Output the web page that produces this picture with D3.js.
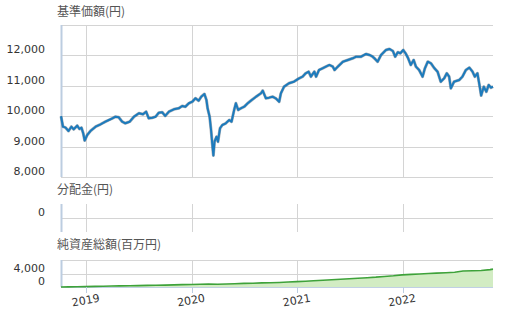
<!doctype html>
<html lang="ja">
  <head>
    <meta charset="utf-8">
    <title>基準価額チャート</title>
    <style>
      body { margin: 0; background: #fff; }
      text { font-family: "DejaVu Sans", sans-serif; }
      .title { font-family: "Noto Sans CJK JP", sans-serif; fill: #555; font-size: 12px; }
    </style>
  </head>
  <body>
    <div id="chart"></div>

    <script src="https://cdn.jsdelivr.net/npm/d3@7"></script>
    <script>

    // 基準価額(円)
    var navDates = ["2018-10-05","2018-10-12","2018-10-21","2018-10-31","2018-11-10","2018-11-18","2018-11-30","2018-12-08","2018-12-15","2018-12-21","2018-12-26","2019-01-04","2019-01-15","2019-02-02","2019-02-19","2019-03-08","2019-03-20","2019-04-01","2019-04-12","2019-04-23","2019-05-05","2019-05-16","2019-05-31","2019-06-15","2019-07-02","2019-07-16","2019-07-27","2019-08-05","2019-08-18","2019-08-29","2019-09-09","2019-09-21","2019-10-01","2019-10-14","2019-10-31","2019-11-17","2019-11-29","2019-12-10","2019-12-22","2020-01-03","2020-01-14","2020-01-25","2020-02-03","2020-02-14","2020-02-21","2020-02-25","2020-03-03","2020-03-08","2020-03-12","2020-03-16","2020-03-20","2020-03-27","2020-04-01","2020-04-08","2020-04-16","2020-04-28","2020-05-10","2020-05-18","2020-05-27","2020-06-02","2020-06-10","2020-06-19","2020-07-01","2020-07-13","2020-07-27","2020-08-11","2020-08-28","2020-09-03","2020-09-14","2020-09-25","2020-10-07","2020-10-18","2020-10-30","2020-11-05","2020-11-16","2020-12-03","2020-12-20","2021-01-07","2021-01-19","2021-01-30","2021-02-09","2021-02-17","2021-03-01","2021-03-07","2021-03-17","2021-03-29","2021-04-10","2021-04-22","2021-05-04","2021-05-10","2021-05-21","2021-06-08","2021-06-25","2021-07-12","2021-07-24","2021-08-10","2021-08-27","2021-09-08","2021-09-19","2021-09-25","2021-10-06","2021-10-18","2021-11-04","2021-11-16","2021-11-28","2021-12-06","2021-12-15","2021-12-24","2022-01-03","2022-01-11","2022-01-20","2022-01-29","2022-02-08","2022-02-16","2022-02-27","2022-03-11","2022-03-19","2022-03-29","2022-04-09","2022-04-21","2022-05-02","2022-05-13","2022-05-25","2022-06-03","2022-06-11","2022-06-17","2022-06-28","2022-07-16","2022-07-27","2022-08-08","2022-08-20","2022-08-31","2022-09-08","2022-09-17","2022-09-26","2022-09-30","2022-10-09","2022-10-18","2022-10-26","2022-11-03","2022-11-10"];
    var navValues = [10000,9655,9622,9513,9655,9569,9688,9579,9622,9438,9200,9382,9513,9655,9734,9819,9875,9931,9984,9964,9819,9767,9819,9984,10096,10063,10148,9931,9951,9984,10115,10129,10010,10148,10227,10260,10336,10313,10425,10477,10589,10510,10642,10731,10533,10260,9984,9546,9109,8710,9161,9326,9161,9602,9711,9767,9875,9819,10204,10425,10204,10260,10313,10425,10533,10642,10754,10839,10589,10610,10642,10589,10477,10754,10971,11083,11135,11247,11300,11412,11464,11300,11464,11300,11520,11576,11629,11685,11629,11520,11629,11793,11849,11905,11958,11958,12047,12014,11958,11905,11793,12014,12178,12211,12145,11958,12103,12070,12178,12070,11905,11685,11849,11629,11520,11300,11576,11793,11741,11576,11464,11135,11247,11412,11300,10918,11135,11191,11300,11520,11596,11464,11300,11412,10918,10680,10971,10806,11027,10938,10971];

    // 分配金(円) - none paid in the period
    var distDates = [];
    var distValues = [];

    // 純資産総額(百万円)
    var aumDates = ["2018-10-05","2018-10-31","2018-11-30","2018-12-28","2019-01-31","2019-02-28","2019-03-29","2019-04-26","2019-05-31","2019-06-28","2019-07-31","2019-08-30","2019-09-30","2019-10-31","2019-11-29","2019-12-30","2020-01-31","2020-02-28","2020-03-31","2020-04-30","2020-05-29","2020-06-30","2020-07-31","2020-08-31","2020-09-30","2020-10-30","2020-11-30","2020-12-30","2021-01-29","2021-02-26","2021-03-31","2021-04-30","2021-05-31","2021-06-30","2021-07-30","2021-08-31","2021-09-30","2021-10-29","2021-11-30","2021-12-30","2022-01-31","2022-02-28","2022-03-31","2022-04-28","2022-05-31","2022-06-30","2022-07-29","2022-08-31","2022-09-30","2022-10-31","2022-11-10"];
    var aumValues = [10,40,80,120,180,230,280,330,370,420,470,510,570,630,690,760,830,870,800,900,980,1060,1130,1220,1280,1350,1470,1580,1700,1840,1990,2150,2290,2460,2600,2760,2920,3130,3330,3600,3750,3850,3980,4100,4230,4380,4720,4830,4900,5150,5300];

    var navTicks = [8000, 9000, 10000, 11000, 12000];
    var navGrid = [8000, 9000, 10000, 11000, 12000, 13000];
    var distTicks = [0];
    var aumTicks = [0, 4000];
    var aumGrid = [0, 4000, 8000];
    var yearTicks = ["2019-01-01", "2020-01-01", "2021-01-01", "2022-01-01"];

    var parse = d3.timeParse("%Y-%m-%d");
    var fmt = d3.format(",");

    var width = 509, height = 314;
    var left = 61, right = 493;

    var svg = d3.select("#chart")
        .append("svg")
        .attr("width", width)
        .attr("height", height);

    var x = d3.scaleTime()
        .domain([parse("2018-10-05"), parse("2022-11-10")])
        .range([left, right]);

    var years = yearTicks.map(parse);

    // panels
    var yNav = d3.scaleLinear().domain([8000, 13000]).range([177, 25]);
    var yDist = d3.scaleLinear().domain([-1, 1]).range([232, 204]);
    var yAum = d3.scaleLinear().domain([0, 8000]).range([287, 260]);

    function panel(y, grid, ticks, title, titleY, bottomAxis) {
      var g = svg.append("g");
      var r = y.range();

      g.selectAll(".hg")
        .data(grid)
        .join("line")
        .attr("x1", left).attr("x2", right)
        .attr("y1", function(d){ return Math.round(y(d)) + 0.5; })
        .attr("y2", function(d){ return Math.round(y(d)) + 0.5; })
        .attr("stroke", function(d){ return (bottomAxis && d == grid[0]) ? "#c0d0e4" : "#d4d4d4"; })
        .attr("stroke-width", 1);

      g.selectAll(".vg")
        .data(years)
        .join("line")
        .attr("x1", function(d){ return Math.round(x(d)) + 0.5; })
        .attr("x2", function(d){ return Math.round(x(d)) + 0.5; })
        .attr("y1", r[1]).attr("y2", r[0])
        .attr("stroke", "#d4d4d4");

      g.append("line")
        .attr("x1", left + 0.5).attr("x2", left + 0.5)
        .attr("y1", r[1]).attr("y2", r[0])
        .attr("stroke", "#bccde0")
        .attr("stroke-width", 2);

      g.selectAll(".tl")
        .data(ticks)
        .join("text")
        .attr("x", 45)
        .attr("y", function(d){ return y(d) - 2; })
        .attr("text-anchor", "end")
        .attr("font-size", "11px")
        .attr("fill", "#333")
        .text(fmt);

      svg.append("text")
        .attr("class", "title")
        .attr("x", 57)
        .attr("y", titleY)
        .text(title);

      return g;
    }

    panel(yNav, navGrid, navTicks, "基準価額(円)", 16, false);
    panel(yDist, [0], distTicks, "分配金(円)", 194, false);
    panel(yAum, aumGrid, aumTicks, "純資産総額(百万円)", 249, true);

    // 基準価額 line
    var nav = navDates.map(function(d, i){ return {date: parse(d), value: navValues[i]}; });
    var navLine = d3.line()
        .x(function(d){ return x(d.date); })
        .y(function(d){ return yNav(d.value); });

    svg.append("path")
      .datum(nav)
      .attr("d", navLine)
      .attr("fill", "none")
      .attr("stroke", "#5d6b7a")
      .attr("stroke-width", 3)
      .attr("stroke-linejoin", "round")
      .attr("opacity", 0.55);

    svg.append("path")
      .datum(nav)
      .attr("d", navLine)
      .attr("fill", "none")
      .attr("stroke", "#1c7bbd")
      .attr("stroke-width", 2)
      .attr("stroke-linejoin", "round");

    // 分配金 bars (none)
    svg.selectAll(".dist")
      .data(distDates.map(function(d, i){ return {date: parse(d), value: distValues[i]}; }))
      .join("rect")
      .attr("x", function(d){ return x(d.date) - 1; })
      .attr("width", 2)
      .attr("y", function(d){ return yDist(d.value); })
      .attr("height", function(d){ return yDist(0) - yDist(d.value); })
      .attr("fill", "#e07b39");

    // 純資産総額 area
    var aum = aumDates.map(function(d, i){ return {date: parse(d), value: aumValues[i]}; });

    svg.append("path")
      .datum(aum)
      .attr("d", d3.area()
        .x(function(d){ return x(d.date); })
        .y0(yAum(0))
        .y1(function(d){ return yAum(d.value); }))
      .attr("fill", "#d2ecc3");

    svg.append("path")
      .datum(aum)
      .attr("d", d3.line()
        .x(function(d){ return x(d.date); })
        .y(function(d){ return yAum(d.value); }))
      .attr("fill", "none")
      .attr("stroke", "#3ea23a")
      .attr("stroke-width", 1.6);

    // x axis ticks + rotated year labels
    svg.selectAll(".xt")
      .data(years)
      .join("line")
      .attr("x1", function(d){ return Math.round(x(d)) + 0.5; })
      .attr("x2", function(d){ return Math.round(x(d)) + 0.5; })
      .attr("y1", 287).attr("y2", 293)
      .attr("stroke", "#bccde0");

    svg.selectAll(".xl")
      .data(years)
      .join("text")
      .attr("transform", function(d){ return "translate(" + x(d) + ",304) rotate(-10)"; })
      .attr("text-anchor", "middle")
      .attr("font-size", "11px")
      .attr("fill", "#333")
      .text(d3.timeFormat("%Y"));

    </script>
  </body>
</html>
